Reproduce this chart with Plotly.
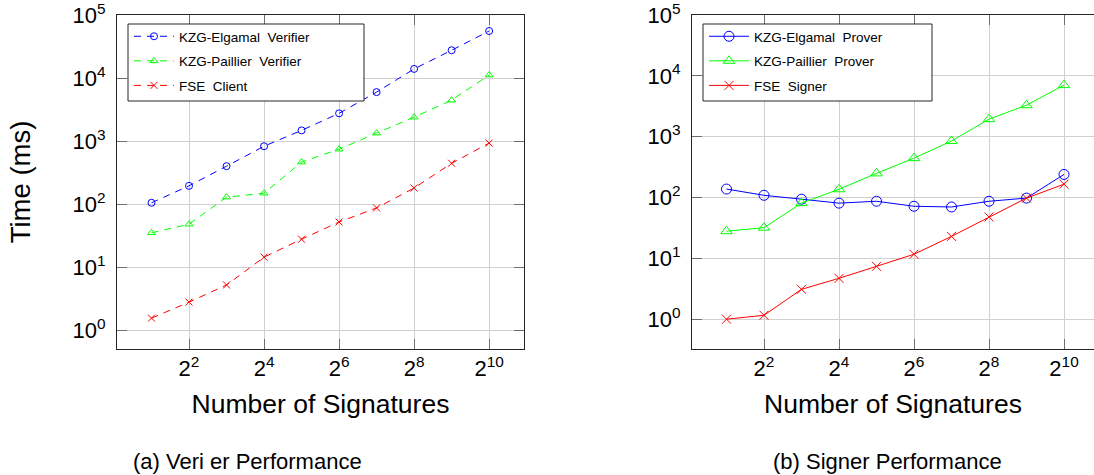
import plotly.graph_objects as go

W, H = 1094, 475

# ---- data ----
signatures = [2, 4, 8, 16, 32, 64, 128, 256, 512, 1024]
x_tick_vals = [4, 16, 64, 256, 1024]
x_tick_text = ["2<sup>2</sup>", "2<sup>4</sup>", "2<sup>6</sup>", "2<sup>8</sup>", "2<sup>10</sup>"]
y_tick_vals = [1, 10, 100, 1000, 10000, 100000]
y_tick_text = ["10<sup>0</sup>", "10<sup>1</sup>", "10<sup>2</sup>", "10<sup>3</sup>", "10<sup>4</sup>", "10<sup>5</sup>"]

elgamal_verifier = [105, 195, 400, 830, 1480, 2760, 6000, 14000, 27700, 56000]
paillier_verifier = [35, 48, 129, 149, 465, 745, 1340, 2400, 4470, 11200]
fse_client = [1.55, 2.78, 5.2, 14.4, 27.7, 52, 87, 180, 445, 930]

elgamal_prover = [138, 109, 94, 81, 87, 72, 70, 87, 98, 240]
paillier_prover = [28, 32, 81, 137, 250, 445, 850, 1950, 3300, 7070]
fse_signer = [1.0, 1.16, 3.1, 4.7, 7.4, 11.7, 23, 48, 98, 166]

BLUE, GREEN, RED = "#0000FF", "#00FF00", "#FF0000"
FONT = "Liberation Sans, Arial, sans-serif"

fig = go.Figure()

left_series = [
    ("KZG-Elgamal  Verifier", elgamal_verifier, BLUE, "circle-open", 7),
    ("KZG-Paillier  Verifier", paillier_verifier, GREEN, "triangle-up-open", 7),
    ("FSE  Client", fse_client, RED, "x-thin-open", 7),
]
for i, (name, vals, col, sym, sz) in enumerate(left_series):
    fig.add_trace(go.Scatter(
        x=signatures, y=vals, name=name, mode="lines+markers",
        line=dict(color=col, width=1, dash="7px,6px"),
        marker=dict(symbol=sym, size=sz, color=col, line=dict(color=col, width=1)),
        xaxis="x", yaxis="y", legend="legend", legendgroup=f"l{i}",
    ))

right_series = [
    ("KZG-Elgamal  Prover", elgamal_prover, BLUE, "circle-open", 10),
    ("KZG-Paillier  Prover", paillier_prover, GREEN, "triangle-up-open", 10),
    ("FSE  Signer", fse_signer, RED, "x-thin-open", 9),
]
for i, (name, vals, col, sym, sz) in enumerate(right_series):
    fig.add_trace(go.Scatter(
        x=signatures, y=vals, name=name, mode="lines+markers",
        line=dict(color=col, width=1),
        marker=dict(symbol=sym, size=sz, color=col, line=dict(color=col, width=1)),
        xaxis="x2", yaxis="y2", legend="legend2", legendgroup=f"r{i}",
    ))

def xaxis(domain, rng, mirror):
    return dict(
        domain=domain, type="log", range=rng, automargin=False,
        tickvals=x_tick_vals, ticktext=x_tick_text,
        showline=True, linecolor="#262626", linewidth=1, mirror=mirror,
        ticks="inside", ticklen=10, tickcolor="#6e6e6e",
        showgrid=True, gridcolor="#d0d0d0", gridwidth=1, zeroline=False,
        tickfont=dict(size=22, color="black", family=FONT),
        ticklabeloverflow="allow",
        title=dict(text="Number of Signatures", font=dict(size=26.5, color="black", family=FONT), standoff=14),
    )

def yaxis(domain, rng, mirror, anchor):
    return dict(
        domain=domain, type="log", range=rng, anchor=anchor, automargin=False,
        tickvals=y_tick_vals, ticktext=y_tick_text,
        showline=True, linecolor="#262626", linewidth=1, mirror=mirror,
        ticks="inside", ticklen=10, tickcolor="#6e6e6e",
        showgrid=True, gridcolor="#d0d0d0", gridwidth=1, zeroline=False,
        tickfont=dict(size=22, color="black", family=FONT),
        ticklabeloverflow="allow",
        ticklabelstandoff=6,
    )

def px_x(v):
    return v / W

def px_y(v):
    return 1 - v / H

ydom = [px_y(349), px_y(15)]
legend_style = dict(xanchor="left", yanchor="top", bgcolor="rgba(0,0,0,0)", borderwidth=0,
                    font=dict(size=13.5, color="black", family=FONT), tracegroupgap=4, itemwidth=40)

fig.update_layout(
    width=W, height=H,
    margin=dict(l=0, r=0, t=0, b=0, autoexpand=False),
    paper_bgcolor="white", plot_bgcolor="white",
    font=dict(family=FONT, color="black"),
    xaxis=dict(**xaxis([px_x(117), px_x(524)], [0.0241, 3.290], "ticks"), anchor="y"),
    yaxis=dict(**yaxis(ydom, [-0.30, 5.002], "ticks", "x"),
               title=dict(text="Time (ms)", font=dict(size=27.5, color="black", family=FONT), standoff=33)),
    xaxis2=dict(**xaxis([px_x(692), 1.0], [0.0241, 3.251], "ticks"), anchor="y2"),
    yaxis2=yaxis(ydom, [-0.49, 5.002], False, "x2"),
    legend=dict(x=px_x(129), y=px_y(21), **legend_style),
    legend2=dict(x=px_x(704), y=px_y(21), **legend_style),
    shapes=[
        dict(type="rect", xref="paper", yref="paper", x0=px_x(128), x1=px_x(364), y0=px_y(101), y1=px_y(24),
             fillcolor="white", line=dict(color="#262626", width=1), layer="above"),
        dict(type="rect", xref="paper", yref="paper", x0=px_x(703), x1=px_x(932), y0=px_y(101), y1=px_y(24),
             fillcolor="white", line=dict(color="#262626", width=1), layer="above"),
    ],
    annotations=[
        dict(text="(a) Veri er Performance", x=px_x(247), y=px_y(461), xref="paper", yref="paper",
             xanchor="center", yanchor="middle", showarrow=False,
             font=dict(size=22, color="black", family=FONT)),
        dict(text="(b) Signer Performance", x=px_x(887), y=px_y(461), xref="paper", yref="paper",
             xanchor="center", yanchor="middle", showarrow=False,
             font=dict(size=22, color="black", family=FONT)),
    ],
)

fig.write_html("out.html", config={"displayModeBar": False},
               post_script="document.body.style.margin='0';document.body.style.overflow='hidden';")
